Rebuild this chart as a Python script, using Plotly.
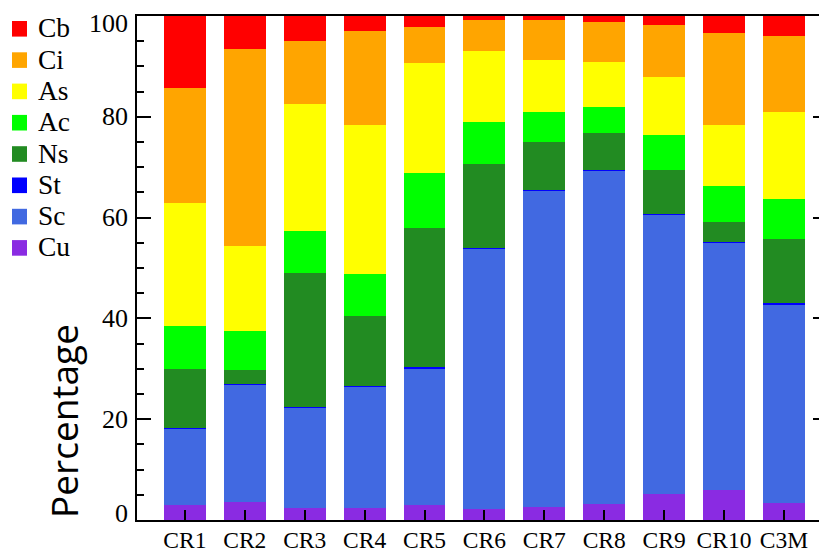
import plotly.graph_objects as go

categories = ["CR1", "CR2", "CR3", "CR4", "CR5", "CR6", "CR7", "CR8", "CR9", "CR10", "C3M"]
cu = [3.0, 3.6, 2.45, 2.45, 3.0, 2.2, 2.6, 3.2, 5.2, 6.0, 3.4]
sc = [15.1, 23.2, 19.85, 24.0, 27.0, 51.7, 62.75, 66.1, 55.5, 49.1, 39.4]
st = [0.2, 0.2, 0.2, 0.15, 0.4, 0.1, 0.05, 0.1, 0.1, 0.1, 0.3]
ns = [11.7, 2.8, 26.6, 13.9, 27.6, 16.7, 9.6, 7.4, 8.7, 4.0, 12.7]
ac = [8.4, 7.8, 8.3, 8.4, 10.9, 8.3, 6.0, 5.2, 6.9, 7.1, 7.8]
as_ = [24.4, 16.8, 25.2, 29.5, 21.8, 14.1, 10.3, 8.9, 11.4, 12.1, 17.4]
ci = [23.0, 39.1, 12.5, 18.7, 7.2, 6.2, 8.0, 8.0, 10.5, 18.3, 15.1]
cb = [14.2, 6.5, 4.9, 2.9, 2.1, 0.7, 0.7, 1.1, 1.7, 3.3, 3.9]

series_names = ["Cu", "Sc", "St", "Ns", "Ac", "As", "Ci", "Cb"]
series_values = [cu, sc, st, ns, ac, as_, ci, cb]
series_colors = ["#8a2be2", "#4169e1", "#0000ff", "#228b22", "#00ff00", "#ffff00", "#ffa500", "#ff0000"]
y_tick_vals = [0, 20, 40, 60, 80, 100]
y_tick_text = ["0", "20", "40", "60", "80", "100"]
y_label = "Percentage"

# page body has an 8px margin, so the figure is laid out with that offset in mind
W, H = 827, 553
OFF = 8
L, R, T, B = 137 - OFF, OFF, 16 - OFF, H - (520 - OFF)
PW, PH = W - L - R, H - T - B

def px_x(p):  # screen pixel -> paper
    return (p - 137) / PW

def px_y(p):
    return (520 - p) / PH

# end labels sit just inside the axis range, as in the reference
label_pos = [min(max(v, 1.3), 98.5) for v in y_tick_vals]

fig = go.Figure()
for name, vals, col in zip(series_names, series_values, series_colors):
    fig.add_trace(go.Bar(x=categories, y=vals, name=name, marker=dict(color=col, line=dict(width=0)),
                         showlegend=False))

serif = "Liberation Serif"

shapes = []
annotations = []
legend_order = list(zip(series_names, series_colors))[::-1]
for i, (name, col) in enumerate(legend_order):
    cy = 28.8 + 31.3 * i
    shapes.append(dict(type="rect", xref="paper", yref="paper",
                       x0=px_x(12), x1=px_x(27), y0=px_y(cy + 7.8), y1=px_y(cy - 7.8),
                       fillcolor=col, line=dict(width=0)))
    annotations.append(dict(text=name, xref="paper", yref="paper", x=px_x(36), y=px_y(cy - 1),
                            xanchor="left", yanchor="middle", showarrow=False,
                            font=dict(family=serif, size=27.5, color="black")))

# y tick labels (0 and 100 nudged inside the range as in the reference)
for pos, txt in zip(label_pos, y_tick_text):
    annotations.append(dict(text=txt, xref="paper", yref="y", x=px_x(130), y=pos,
                            xanchor="right", yanchor="middle", showarrow=False,
                            font=dict(family=serif, size=26, color="black")))

annotations.append(dict(text=y_label, xref="paper", yref="paper", x=px_x(63), y=px_y(421),
                        xanchor="center", yanchor="middle", textangle=-90, showarrow=False,
                        font=dict(family="Open Sans", size=37, color="black")))

fig.update_layout(
    width=W, height=H,
    margin=dict(l=L, r=R, t=T, b=B, pad=0),
    barmode="stack", bargap=0.3,
    plot_bgcolor="white", paper_bgcolor="white",
    shapes=shapes, annotations=annotations,
    xaxis=dict(range=[-0.8, 10.72], showline=True, linecolor="black", linewidth=2, mirror=True,
               ticks="inside", ticklen=10, tickwidth=2, tickcolor="black", showgrid=False,
               automargin=False, ticklabeloverflow="allow", ticklabelstandoff=-2,
               tickfont=dict(family=serif, size=23.5, color="black")),
    yaxis=dict(range=[0, 100], tickvals=y_tick_vals, showline=True, linecolor="black", linewidth=1.5,
               mirror="ticks", ticks="inside", ticklen=14, tickwidth=1.5, tickcolor="black",
               showgrid=False, zeroline=False, showticklabels=False, automargin=False,
               minor=dict(dtick=5, ticks="inside", ticklen=7, tickwidth=1.5, tickcolor="black", showgrid=False)),
)

fig.write_html("out.html")
